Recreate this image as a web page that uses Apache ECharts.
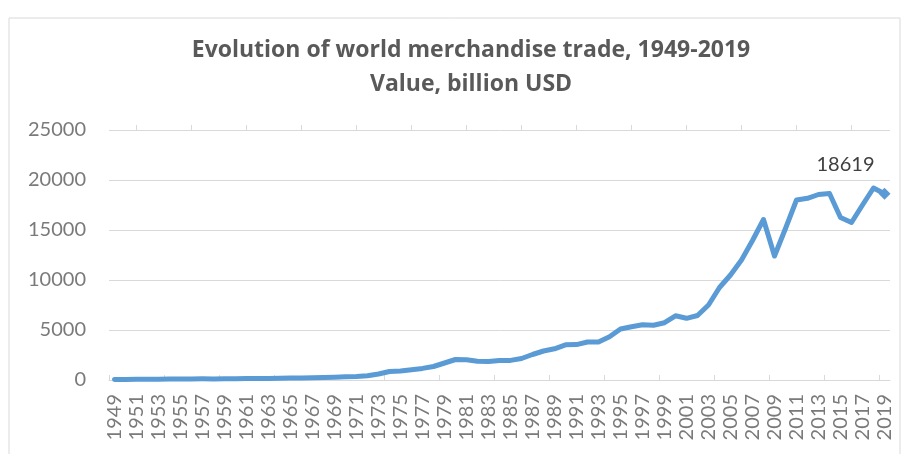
<!DOCTYPE html>
<html>
<head>
<meta charset="utf-8">
<script src="https://cdn.jsdelivr.net/npm/echarts@6/dist/echarts.min.js"></script>
<style>
html,body{margin:0;padding:0;background:#fff;}
#chart{width:908px;height:454px;}
</style>
</head>
<body>
<div id="chart"></div>
<script>
var years = [];
for (var y = 1949; y <= 2019; y++) years.push(String(y));

var tradeValue = [
  60, 62, 85, 82, 85, 88, 96, 106, 114, 110,
  118, 132, 138, 146, 160, 180, 195, 212, 222, 248,
  285, 325, 360, 430, 600, 850, 900, 1020, 1160, 1350,
  1700, 2050, 2020, 1880, 1850, 1960, 1960, 2150, 2550, 2900,
  3120, 3520, 3540, 3800, 3800, 4320, 5100, 5330, 5530, 5480,
  5730, 6420, 6170, 6450, 7500, 9250, 10500, 12000, 13950, 16050,
  12400, 15150, 18000, 18170, 18550, 18650, 16250, 15750, 17500, 19200,
  18619
];

var titleLines = ['Evolution of world merchandise trade, 1949-2019', 'Value, billion USD'];

var lastIdx = tradeValue.length - 1;
var seriesData = tradeValue.map(function (v, i) {
  if (i === lastIdx) {
    return {
      value: v,
      symbol: 'diamond',
      symbolSize: 12,
      itemStyle: { color: '#5b9bd5' },
      label: {
        show: true,
        position: 'top',
        formatter: String(v),
        fontFamily: 'Lato',
        fontSize: 20,
        color: '#404040',
        offset: [-39, -8]
      }
    };
  }
  return v;
});

var chart = echarts.init(document.getElementById('chart'), null, { renderer: 'canvas' });
var font = 'Lato';
chart.setOption({
  animation: false,
  backgroundColor: '#ffffff',
  title: {
    text: titleLines.join('\n'),
    left: 466,
    top: 28,
    textAlign: 'center',
    textStyle: {
      fontFamily: 'Open Sans',
      fontWeight: 'bold',
      fontSize: 23,
      lineHeight: 34,
      color: '#595959'
    }
  },
  graphic: [{
    type: 'rect',
    shape: { x: 9, y: 18, width: 891, height: 470 },
    style: { fill: 'none', stroke: '#d9d9d9', lineWidth: 1 },
    silent: true,
    z: -1
  }],
  grid: [
    { left: 109, right: 18, top: 130, bottom: 74, containLabel: false },
    { left: 109, right: 29, top: 130, bottom: 74, containLabel: false }
  ],
  xAxis: [{
    type: 'category',
    gridIndex: 0,
    data: years,
    boundaryGap: true,
    axisLine: { show: true, lineStyle: { color: '#d9d9d9', width: 1 } },
    axisTick: { show: false },
    axisLabel: {
      interval: 1,
      rotate: 90,
      margin: 14,
      fontFamily: font,
      fontSize: 20,
      color: '#7a7a7a'
    },
    splitLine: { show: false }
  }, {
    type: 'value',
    gridIndex: 1,
    min: 0,
    max: 70,
    interval: 5,
    axisLine: { show: false },
    axisLabel: { show: false },
    splitLine: { show: false },
    axisTick: { show: true, inside: true, length: 5, lineStyle: { color: '#d9d9d9', width: 1 } }
  }, {
    type: 'value',
    gridIndex: 1,
    min: 0,
    max: 70,
    interval: 5,
    axisLine: { show: false },
    axisLabel: { show: false },
    splitLine: { show: false },
    axisTick: { show: false, inside: false },
    minorTick: { show: true, splitNumber: 2, length: 5, lineStyle: { color: '#d9d9d9', width: 1 } }
  }],
  yAxis: [{
    type: 'value',
    gridIndex: 0,
    min: 0,
    max: 25000,
    interval: 5000,
    axisLine: { show: false },
    axisTick: { show: false },
    axisLabel: {
      margin: 23,
      fontFamily: font,
      fontSize: 20,
      color: '#7a7a7a',
      formatter: function (v) { return String(v); }
    },
    splitLine: { show: true, lineStyle: { color: '#d9d9d9', width: 1 } }
  }, {
    type: 'value',
    gridIndex: 1,
    min: 0,
    max: 1,
    show: false
  }],
  series: [{
    type: 'line',
    xAxisIndex: 0,
    yAxisIndex: 0,
    data: seriesData,
    showSymbol: true,
    symbol: 'none',
    smooth: false,
    lineStyle: { color: '#5b9bd5', width: 5, cap: 'round', join: 'round' },
    itemStyle: { color: '#5b9bd5' },
    emphasis: { disabled: true },
    z: 3
  }]
});
</script>
</body>
</html>
